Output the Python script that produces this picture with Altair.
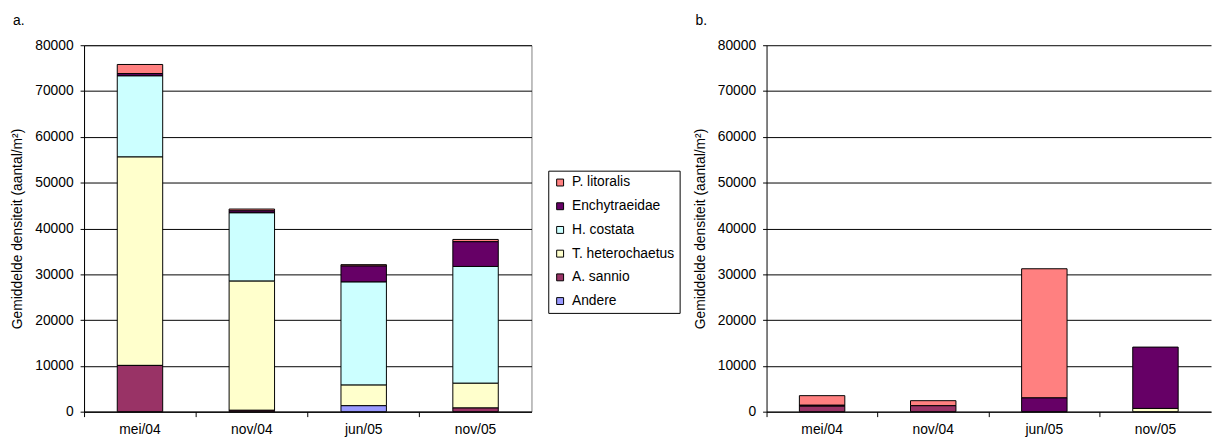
import altair as alt
import pandas as pd

dates = ["mei/04", "nov/04", "jun/05", "nov/05"]
species = ["P. litoralis", "Enchytraeidae", "H. costata", "T. heterochaetus", "A. sannio", "Andere"]
colors = ["#FF8080", "#660066", "#CCFFFF", "#FFFFCC", "#993366", "#9999FF"]

# panel a (values per date)
a_plit = [2000, 400, 300, 500]
a_ench = [500, 440, 3500, 5400]
a_hcos = [17700, 14900, 22500, 25500]
a_thet = [45500, 28200, 4500, 5400]
a_asan = [10100, 300, 0, 800]
a_and = [0, 0, 1300, 0]

# panel b
b_plit = [2100, 1100, 28200, 0]
b_ench = [200, 0, 3000, 13400]
b_hcos = [0, 0, 0, 0]
b_thet = [0, 0, 0, 700]
b_asan = [1200, 1300, 0, 0]
b_and = [0, 0, 0, 0]

FONT = "Liberation Sans"


def make_df(series):
    rows = []
    for sp, vals in zip(species, series):
        for d, v in zip(dates, vals):
            if v > 0:
                rows.append({"date": d, "species": sp, "value": v,
                             "rank": len(species) - species.index(sp)})
    return pd.DataFrame(rows)


df_a = make_df([a_plit, a_ench, a_hcos, a_thet, a_asan, a_and])
df_b = make_df([b_plit, b_ench, b_hcos, b_thet, b_asan, b_and])


def panel(df, label, width, legend, border):
    return alt.Chart(df).mark_bar(size=46, stroke="black", strokeWidth=1).encode(
        x=alt.X("date:N", sort=dates,
                scale=alt.Scale(paddingInner=0, paddingOuter=0),
                axis=alt.Axis(title=None, labelAngle=0, bandPosition=0,
                              tickSize=5, labelPadding=6, grid=False)),
        y=alt.Y("value:Q", stack="zero",
                scale=alt.Scale(domain=[0, 80000], nice=False),
                axis=alt.Axis(values=list(range(0, 80001, 10000)), format="d",
                              title="Gemiddelde densiteit (aantal/m²)",
                              tickSize=4, labelPadding=7, titlePadding=10,
                              grid=True, gridColor="black", gridWidth=1)),
        color=alt.Color("species:N",
                        scale=alt.Scale(domain=species, range=colors),
                        legend=legend),
        order=alt.Order("rank:Q", sort="ascending"),
    ).properties(
        width=width, height=371,
        view=alt.ViewBackground(stroke=border, strokeWidth=1),
        title=alt.TitleParams(label, anchor="start", fontSize=14, font=FONT,
                              fontWeight="normal", offset=10, dx=2, color="black"),
    )


legend_a = alt.Legend(title=None, orient="none", legendX=470, legendY=127,
                      symbolType="square", symbolSize=49, symbolStrokeColor="black",
                      symbolStrokeWidth=1, labelFontSize=14, labelFont=FONT,
                      labelColor="black", rowPadding=10, labelOffset=5,
                      padding=5, strokeColor="black", fillColor="white")

left = panel(df_a, "a.", 453, legend_a, "#808080")
right = panel(df_b, "b.", 450, None, "transparent")

chart = alt.hconcat(left, right, spacing=162).properties(
    padding={"left": 2, "top": 3, "right": 0, "bottom": 2}
).configure_axis(
    labelFont=FONT, titleFont=FONT, labelFontSize=14, titleFontSize=14,
    titleFontWeight="normal", labelColor="black", titleColor="black",
    domainColor="black", tickColor="black",
).configure_view(strokeWidth=1)

chart.save("out.html", embed_options={"renderer": "svg", "actions": False})
